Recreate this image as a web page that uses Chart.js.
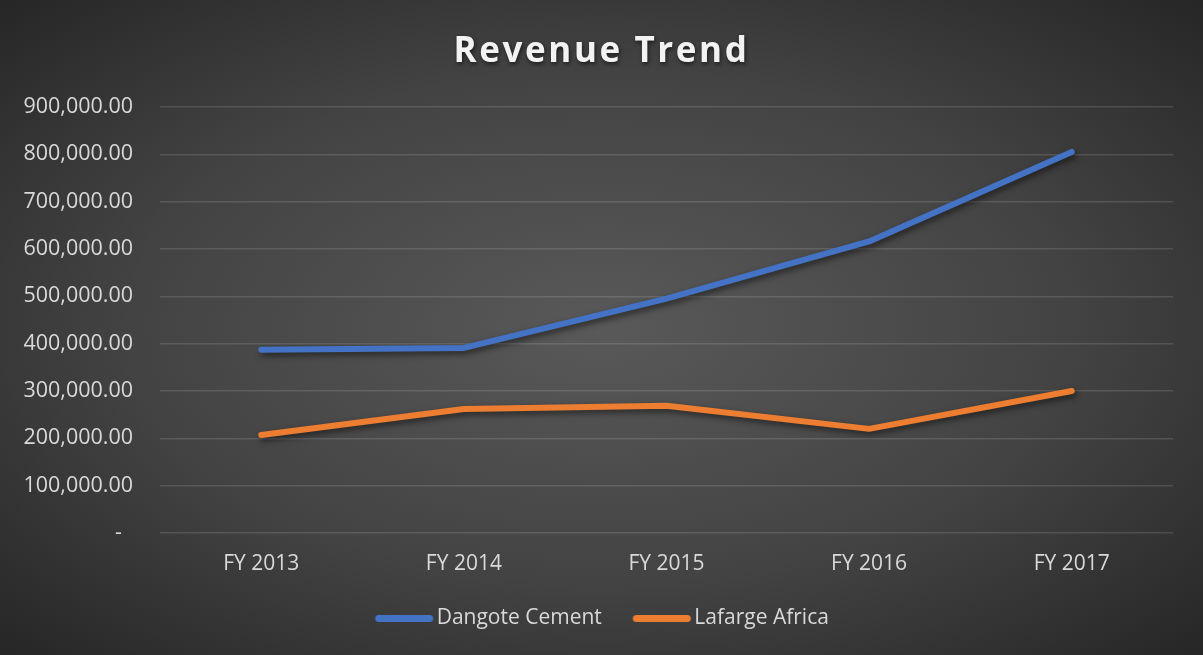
<!DOCTYPE html>
<html>
<head>
<meta charset="utf-8">
<script src="https://cdn.jsdelivr.net/npm/chart.js@4"></script>
<style>
    html, body { margin: 0; padding: 0; }
    body {
        width: 1203px; height: 655px; overflow: hidden;
        background: radial-gradient(ellipse at 50% 50%, #595959 0%, #434343 55%, #262626 100%);
    }
    canvas { display: block; }
</style>
</head>
<body>
<canvas id="myChart" width="1203" height="655"></canvas>
<script>
const years = ['FY 2013', 'FY 2014', 'FY 2015', 'FY 2016', 'FY 2017'];
const dangoteValues = [387000, 391000, 495000, 616000, 805000];
const lafargeValues = [207000, 262000, 269000, 220000, 300000];
const yTicks = [0, 100000, 200000, 300000, 400000, 500000, 600000, 700000, 800000, 900000];

const seriesColors = ['#4472C4', '#ED7D31'];
const textColor = '#d9d9d9';
const fontFam = '"Open Sans", "DejaVu Sans", sans-serif';

// legend marker: rounded bar sitting close to the text
function legendMarker(color) {
    const c = document.createElement('canvas');
    c.width = 69; c.height = 9;
    const g = c.getContext('2d');
    g.strokeStyle = color;
    g.lineWidth = 7;
    g.lineCap = 'round';
    g.beginPath();
    g.moveTo(13, 4.5);
    g.lineTo(64, 4.5);
    g.stroke();
    return c;
}
const markers = seriesColors.map(legendMarker);

// soft shadow under the lines
const lineShadow = {
    id: 'lineShadow',
    beforeDatasetsDraw(chart) {
        const ctx = chart.ctx;
        ctx.save();
        ctx.shadowColor = 'rgba(0,0,0,0.55)';
        ctx.shadowBlur = 6;
        ctx.shadowOffsetX = 2;
        ctx.shadowOffsetY = 3;
    },
    afterDatasetsDraw(chart) {
        chart.ctx.restore();
    }
};

// title + legend centred on the whole canvas, title spaced out with a shadow
const boxStyle = {
    id: 'boxStyle',
    afterLayout(chart) {
        const wrap = (box, isTitle) => {
            if (!box || box._styled) return;
            const orig = box.draw.bind(box);
            box.draw = function (area) {
                const c = chart.ctx;
                c.save();
                c.translate(15, 0);
                if (isTitle) {
                    c.letterSpacing = '2.6px';
                    c.shadowColor = 'rgba(0,0,0,0.6)';
                    c.shadowBlur = 4;
                    c.shadowOffsetX = 1;
                    c.shadowOffsetY = 2;
                }
                orig(area);
                c.restore();
            };
            box._styled = true;
        };
        wrap(chart.titleBlock, true);
        wrap(chart.legend, false);
    }
};

const ctx = document.getElementById('myChart');

const data = {
    labels: years,
    datasets: [{
        label: 'Dangote Cement',
        data: dangoteValues,
        borderColor: seriesColors[0],
        backgroundColor: seriesColors[0],
        borderWidth: 6,
        borderCapStyle: 'round',
        borderJoinStyle: 'round',
        pointRadius: 0,
        tension: 0
    }, {
        label: 'Lafarge Africa',
        data: lafargeValues,
        borderColor: seriesColors[1],
        backgroundColor: seriesColors[1],
        borderWidth: 6,
        borderCapStyle: 'round',
        borderJoinStyle: 'round',
        pointRadius: 0,
        tension: 0
    }]
};

const options = {
    responsive: false,
    animation: false,
    layout: { padding: { left: 0, right: 30, top: 0, bottom: 16 } },
    plugins: {
        title: {
            display: true,
            text: 'Revenue Trend',
            color: '#f2f2f2',
            font: { family: fontFam, size: 35, weight: 'bold' },
            padding: { top: 31, bottom: 34 }
        },
        legend: {
            position: 'bottom',
            labels: {
                color: textColor,
                font: { family: fontFam, size: 21 },
                usePointStyle: true,
                pointStyleWidth: 52,
                boxHeight: 7,
                padding: 30,
                generateLabels(chart) {
                    const items = Chart.defaults.plugins.legend.labels.generateLabels(chart);
                    items.forEach((it, i) => {
                        it.pointStyle = markers[i];
                    });
                    return items;
                }
            }
        },
        tooltip: { enabled: false }
    },
    scales: {
        x: {
            offset: true,
            grid: { display: false, drawTicks: false },
            border: { display: false },
            ticks: { color: textColor, font: { family: fontFam, size: 21 }, padding: 18 },
            afterFit(scale) { scale.height = 45; }
        },
        y: {
            min: 0,
            max: 900000,
            afterBuildTicks(scale) { scale.ticks = yTicks.map(v => ({ value: v })); },
            grid: { color: 'rgba(255,255,255,0.13)', lineWidth: 1.5, drawTicks: false },
            border: { display: false },
            ticks: {
                color: textColor,
                font: { family: fontFam, size: 21.5 },
                padding: 27,
                callback(v) {
                    if (v === 0) return '-  ';   // accounting style zero
                    return v.toLocaleString('en-US', { minimumFractionDigits: 2, maximumFractionDigits: 2 });
                }
            },
            afterFit(scale) { scale.width = 160; }
        }
    }
};

new Chart(ctx, {
    type: 'line',
    data: data,
    options: options,
    plugins: [lineShadow, boxStyle]
});
</script>
</body>
</html>
